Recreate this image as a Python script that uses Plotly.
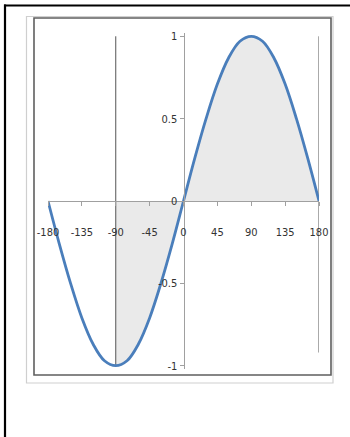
import plotly.graph_objects as go

# Angle in degrees and the sine curve read at 15-degree steps
angles = [-180, -165, -150, -135, -120, -105, -90, -75, -60, -45, -30, -15,
          0, 15, 30, 45, 60, 75, 90, 105, 120, 135, 150, 165, 180]
sine_values = [0, -0.26, -0.5, -0.71, -0.87, -0.97, -1, -0.97, -0.87, -0.71, -0.5, -0.26,
               0, 0.26, 0.5, 0.71, 0.87, 0.97, 1, 0.97, 0.87, 0.71, 0.5, 0.26, 0]

# Shaded section of the curve starts here
shade_start = -90

# Vertical marker lines
marker_x = [-90, 180]
marker_top = [1, 1]
marker_bottom = [-1, -0.92]

x_ticks = [-180, -135, -90, -45, 0, 45, 90, 135, 180]
x_tick_labels = ["-180", "-135", "-90", "-45", "0", "45", "90", "135", "180"]
y_ticks = [1, 0.5, 0, -0.5, -1]
y_tick_labels = ["1", "0.5", "0", "-0.5", "-1"]

W, H = 350, 437
ML, MR, MT, MB = 48, 31, 33, 68
PW, PH = W - ML - MR, H - MT - MB


def px(x):
    return (x - ML) / PW


def py(y):
    return (H - MB - y) / PH


FONT = "Liberation Sans Narrow, Arial Narrow, DejaVu Sans Condensed, sans-serif"
LINE_BLUE = "#4a7ebb"
AXIS_GREY = "#a0a0a0"

fig = go.Figure()

shade_x = [a for a in angles if a >= shade_start]
shade_y = [v for a, v in zip(angles, sine_values) if a >= shade_start]
fig.add_trace(go.Scatter(
    x=shade_x, y=shade_y, mode="lines",
    line=dict(width=0, shape="spline", color="rgba(0,0,0,0)"),
    fill="tozeroy", fillcolor="#eaeaea", hoverinfo="skip"))

for mx, top, bottom in zip(marker_x, marker_top, marker_bottom):
    fig.add_trace(go.Scatter(
        x=[mx, mx], y=[top, bottom], mode="lines",
        line=dict(color="#555555", width=1), hoverinfo="skip"))

fig.add_trace(go.Scatter(
    x=angles, y=sine_values, mode="lines",
    line=dict(color=LINE_BLUE, width=2.8, shape="spline"), hoverinfo="skip"))

shapes = [
    # frame lines along the top and left edge
    dict(type="line", xref="paper", yref="paper", x0=px(4), x1=px(352), y0=py(5.5), y1=py(5.5),
         line=dict(color="#000000", width=2.2)),
    dict(type="line", xref="paper", yref="paper", x0=px(5), x1=px(5), y0=py(4.5), y1=py(440),
         line=dict(color="#000000", width=2.2)),
    # chart area border
    dict(type="rect", xref="paper", yref="paper", x0=px(26.5), x1=px(333), y0=py(16.5), y1=py(383),
         line=dict(color="#cfcfcf", width=1.2)),
    # plot area border
    dict(type="rect", xref="paper", yref="paper", x0=px(34), x1=px(331), y0=py(18), y1=py(375),
         line=dict(color="#5f5f5f", width=1.6)),
]

fig.update_layout(
    width=W, height=H,
    margin=dict(l=ML, r=MR, t=MT, b=MB),
    paper_bgcolor="white", plot_bgcolor="white",
    showlegend=False,
    shapes=shapes,
    font=dict(family=FONT, size=11, color="#333333"),
    xaxis=dict(
        range=[-180, 180], anchor="free", position=0.5,
        showgrid=False, zeroline=False,
        showline=True, linecolor=AXIS_GREY, linewidth=1,
        ticks="outside", ticklen=4, tickcolor=AXIS_GREY,
        tickvals=x_ticks, ticktext=x_tick_labels,
        ticklabelstandoff=17, layer="above traces", fixedrange=True),
    yaxis=dict(
        range=[-1.02, 1.02], anchor="free", position=0.5,
        showgrid=False, zeroline=False,
        showline=True, linecolor=AXIS_GREY, linewidth=1,
        ticks="outside", ticklen=4, tickcolor=AXIS_GREY,
        tickvals=y_ticks, ticktext=y_tick_labels,
        layer="above traces", fixedrange=True),
)

fig.write_html("out.html")
